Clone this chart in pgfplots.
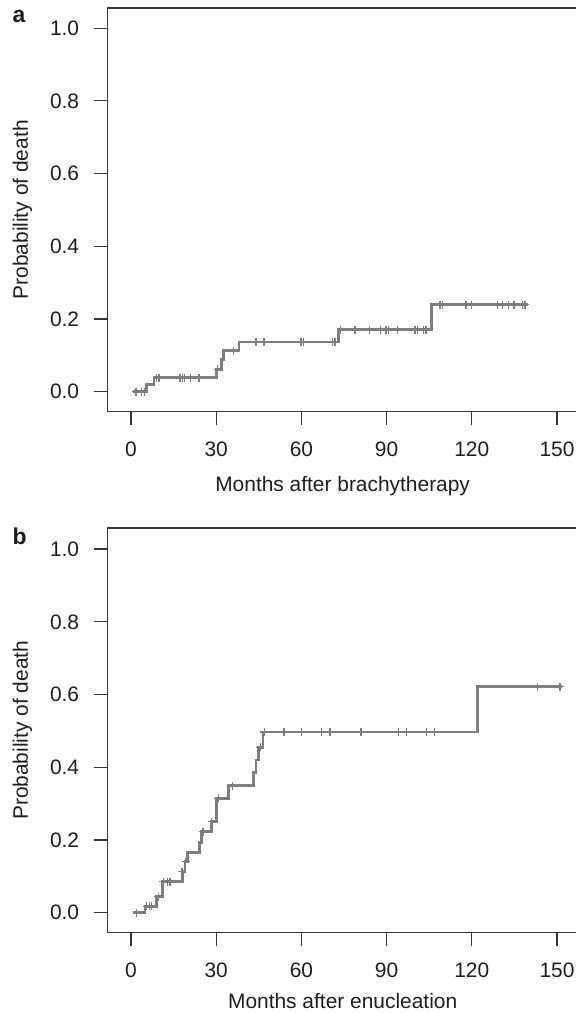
\documentclass[border=0pt]{standalone}
\usepackage{fontspec}
\setmainfont{Liberation Sans}
\usepackage{pgfplots}
\pgfplotsset{compat=1.18}
\definecolor{curve}{RGB}{125,125,125}
\definecolor{axisc}{RGB}{55,55,55}
\definecolor{txt}{RGB}{30,30,30}
\begin{document}
\begin{tikzpicture}
\useasboundingbox (0bp,0bp) rectangle (576bp,1013bp);
\pgfplotsset{
  km/.style={
    scale only axis, width=470.7bp,
    xmin=-8.35, xmax=157.39,
    axis line style={axisc, line width=1.3bp},
    every tick/.style={axisc, line width=1.2bp},
    tick align=outside, major tick length=13bp,
    xtick pos=left, ytick pos=left,
    xtick={0,30,60,90,120,150}, xticklabels={0,30,60,90,120,150},
    ytick={0,0.2,0.4,0.6,0.8,1.0}, yticklabels={0.0,0.2,0.4,0.6,0.8,1.0},
    tick label style={font=\fontsize{21}{21}\selectfont, text=txt},
    xticklabel style={inner sep=0pt, yshift=-17bp},
    yticklabel style={inner sep=0pt, xshift=-15bp},
    label style={font=\fontsize{21}{21}\selectfont, text=txt},
    ylabel={Probability of death},
    ylabel style={at={(axis description cs:-0.1685,0.5)}, anchor=base},
    clip=false,
  },
  stepline/.style={const plot, color=curve, line width=2.8bp, mark=none},
  cens/.style={only marks, mark=+, mark size=4bp, color=curve, mark options={line width=1.3bp}},
}
% ---------- panel a ----------
\begin{axis}[km, at={(107.3bp,601.3bp)}, anchor=south west, height=403.7bp,
  ymin=-0.055, ymax=1.0556,
  xlabel={Months after brachytherapy},
  xlabel style={at={(axis description cs:0.5,-0.1989)}, anchor=base}]
\addplot[stepline] coordinates {
(0.8,0) (5.4,0.019) (8.1,0.038) (30,0.062) (31.9,0.088) (32.7,0.113) (38,0.137) (73.1,0.171) (105.9,0.239) (139.9,0.239)};
\addplot[cens] coordinates {
(1.8,0) (3.8,0) (4.7,0)
(9.0,0.038) (9.9,0.038) (17.3,0.038) (18.1,0.038) (18.8,0.038) (21.0,0.038) (23.9,0.038)
(30.5,0.062) (36,0.113)
(44,0.137) (46.8,0.137) (59.9,0.137) (60.7,0.137) (71.0,0.137) (71.8,0.137)
(73.8,0.171) (78.9,0.171) (83.9,0.171) (87.9,0.171) (89.8,0.171) (90.6,0.171) (93.9,0.171) (100.0,0.171) (100.8,0.171) (102.9,0.171) (103.9,0.171)
(108.8,0.239) (109.8,0.239) (118,0.239) (120,0.239) (129,0.239) (130.9,0.239) (132.9,0.239) (134.9,0.239) (137.8,0.239) (138.7,0.239)};
\end{axis}
% ---------- panel b ----------
\begin{axis}[km, at={(107.3bp,80.3bp)}, anchor=south west, height=404.7bp,
  ymin=-0.055, ymax=1.058,
  xlabel={Months after enucleation},
  xlabel style={at={(axis description cs:0.5,-0.1868)}, anchor=base}]
\addplot[stepline] coordinates {
(0.8,0) (4.9,0.018) (9.0,0.044) (11,0.085) (18.1,0.113) (19,0.14) (20,0.166) (24,0.193) (24.9,0.223) (28.2,0.25) (30.2,0.315) (34.3,0.349) (43.1,0.385) (44,0.42) (45,0.455) (46.5,0.497) (122.1,0.622) (151.7,0.622)};
\addplot[cens] coordinates {
(2,0)
(5.5,0.018) (6.4,0.018) (7.3,0.018)
(9.6,0.044)
(11.4,0.085) (12.9,0.085) (13.7,0.085)
(18,0.113) (19.3,0.14) (25.3,0.223) (28.4,0.25) (30.7,0.315) (35.8,0.349) (45.5,0.455)
(47,0.497) (53.9,0.497) (60.1,0.497) (67.1,0.497) (70.1,0.497) (81.0,0.497) (94.1,0.497) (97.1,0.497) (104.1,0.497) (106.8,0.497)
(143.1,0.622) (151.1,0.622)};
\end{axis}
\node[anchor=base west, font=\fontsize{23}{23}\selectfont\bfseries, text=txt] at (9bp,990bp) {a};
\node[anchor=base west, font=\fontsize{23}{23}\selectfont\bfseries, text=txt] at (9bp,468bp) {b};
\end{tikzpicture}
\end{document}
